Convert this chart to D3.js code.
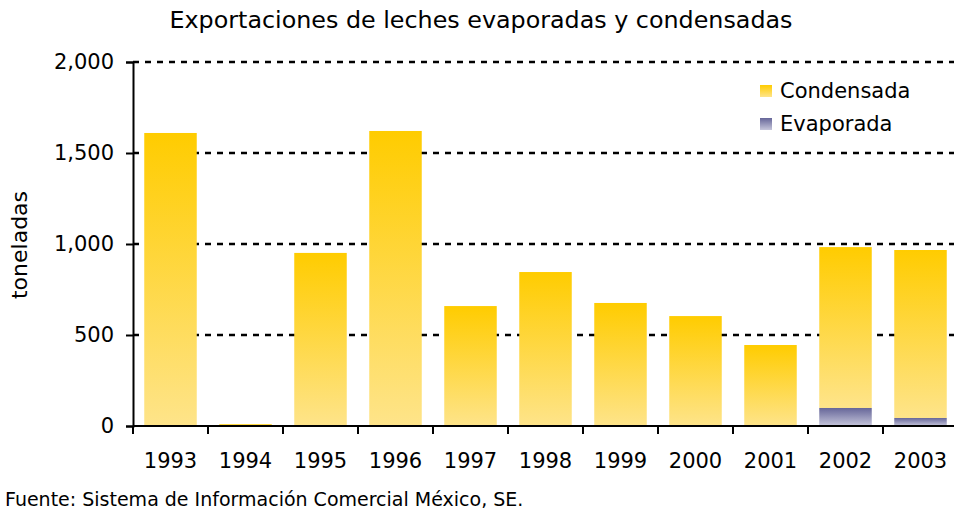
<!DOCTYPE html>
<html>
<head>
<meta charset="utf-8">
<script src="https://cdn.jsdelivr.net/npm/d3@7"></script>
<style>
  html, body { margin: 0; padding: 0; background: #fff; }
  svg { display: block; font-family: "DejaVu Sans", Verdana, sans-serif; }
</style>
</head>
<body>
<svg id="chart" width="954" height="510"></svg>
<script>
// data
const years = ["1993", "1994", "1995", "1996", "1997", "1998", "1999", "2000", "2001", "2002", "2003"];
const evaporada = [0, 0, 0, 0, 0, 0, 0, 0, 0, 99, 44];
const condensada = [1610, 10, 951, 1621, 659, 846, 676, 604, 445, 884, 923];
const yTicks = [0, 500, 1000, 1500, 2000];
const seriesNames = ["Condensada", "Evaporada"];

const svg = d3.select("#chart");
const W = 954, H = 510;
const m = { left: 133, right: -4, top: 62, bottom: 84 };

const x = d3.scaleBand()
  .domain(years)
  .range([m.left, W - m.right])
  .paddingInner(0.3)
  .paddingOuter(0.15);

const y = d3.scaleLinear()
  .domain([0, 2000])
  .range([H - m.bottom, m.top]);

// gradients, darker at top
const defs = svg.append("defs");
function grad(id, top, bottom) {
  const g = defs.append("linearGradient")
    .attr("id", id).attr("x1", 0).attr("y1", 0).attr("x2", 0).attr("y2", 1);
  g.append("stop").attr("offset", "0%").attr("stop-color", top);
  g.append("stop").attr("offset", "100%").attr("stop-color", bottom);
}
grad("gCond", "#ffcc00", "#fee48a");
grad("gEvap", "#666699", "#c6c6db");

// dotted grid lines
svg.append("g")
  .selectAll("line")
  .data(yTicks.filter((d) => d > 0))
  .enter()
  .append("line")
  .attr("x1", m.left)
  .attr("x2", W)
  .attr("y1", (d) => y(d))
  .attr("y2", (d) => y(d))
  .attr("stroke", "#000")
  .attr("stroke-width", 2.5)
  .attr("stroke-dasharray", "6,6");

// stacked bars
const rows = years.map((yr, i) => ({ year: yr, evap: evaporada[i], cond: condensada[i] }));

const bars = svg.append("g");
bars.selectAll("rect.cond")
  .data(rows)
  .enter()
  .append("rect")
  .attr("class", "cond")
  .attr("x", (d) => x(d.year))
  .attr("width", x.bandwidth())
  .attr("y", (d) => y(d.evap + d.cond))
  .attr("height", (d) => y(d.evap) - y(d.evap + d.cond))
  .attr("fill", "url(#gCond)");

bars.selectAll("rect.evap")
  .data(rows.filter((d) => d.evap > 0))
  .enter()
  .append("rect")
  .attr("class", "evap")
  .attr("x", (d) => x(d.year))
  .attr("width", x.bandwidth())
  .attr("y", (d) => y(d.evap))
  .attr("height", (d) => y(0) - y(d.evap))
  .attr("fill", "url(#gEvap)");

// y axis
const yAxis = svg.append("g")
  .attr("transform", `translate(${m.left},0)`)
  .call(d3.axisLeft(y).tickValues(yTicks).tickFormat(d3.format(",")).tickSize(7).tickPadding(12));
yAxis.select(".domain").attr("stroke-width", 2);
yAxis.selectAll(".tick line").attr("stroke-width", 2);
yAxis.selectAll("text").attr("font-size", 21).attr("font-family", "DejaVu Sans, sans-serif").attr("fill", "#000");

// x axis, ticks at band boundaries
const xa = svg.append("g").attr("transform", `translate(0,${y(0)})`);
xa.append("line")
  .attr("x1", m.left).attr("x2", W)
  .attr("stroke", "#000").attr("stroke-width", 2);
xa.selectAll("line.tk")
  .data(years)
  .enter()
  .append("line")
  .attr("class", "tk")
  .attr("x1", (d) => x(d) - x.step() * x.paddingInner() / 2)
  .attr("x2", (d) => x(d) - x.step() * x.paddingInner() / 2)
  .attr("y1", 0).attr("y2", 8)
  .attr("stroke", "#000").attr("stroke-width", 2);
xa.selectAll("text")
  .data(years)
  .enter()
  .append("text")
  .attr("x", (d) => x(d) + x.bandwidth() / 2)
  .attr("y", 42)
  .attr("text-anchor", "middle")
  .attr("font-size", 21)
  .text((d) => d);

// title
svg.append("text")
  .attr("x", 481).attr("y", 28)
  .attr("text-anchor", "middle")
  .attr("font-size", 23.8)
  .text("Exportaciones de leches evaporadas y condensadas");

// y label
svg.append("text")
  .attr("transform", "translate(27,245) rotate(-90)")
  .attr("text-anchor", "middle")
  .attr("font-size", 22)
  .text("toneladas");

// legend
const legend = svg.append("g").attr("transform", "translate(760,80)");
const legFills = ["url(#gCond)", "url(#gEvap)"];
seriesNames.forEach((name, i) => {
  const g = legend.append("g").attr("transform", `translate(0,${i * 33})`);
  g.append("rect").attr("x", 0).attr("y", 5).attr("width", 12).attr("height", 12).attr("fill", legFills[i]);
  g.append("text").attr("x", 20).attr("y", 18).attr("font-size", 21).text(name);
});

// source
svg.append("text")
  .attr("x", 5).attr("y", 506)
  .attr("font-size", 19)
  .text("Fuente: Sistema de Información Comercial México, SE.");
</script>
</body>
</html>
